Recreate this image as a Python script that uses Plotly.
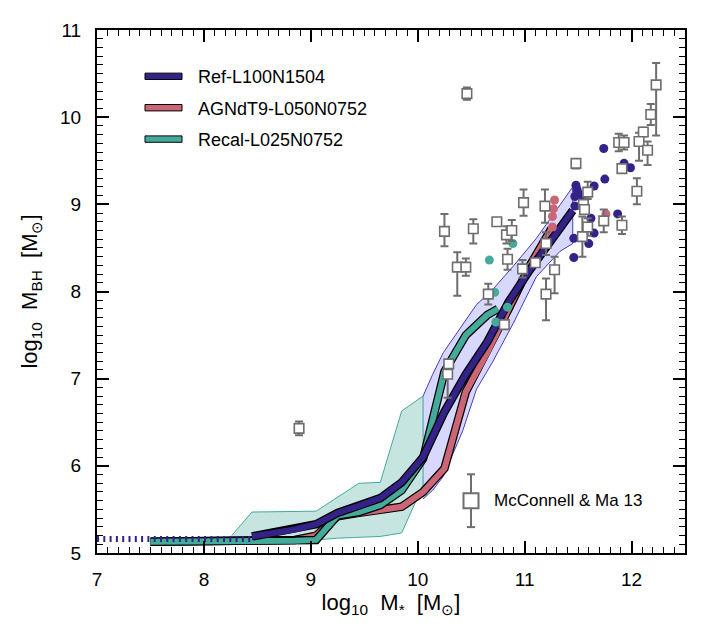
import plotly.graph_objects as go

# ---- simulation medians (log10 M*, log10 M_BH) ----
ref_x = [8.45, 8.85, 9.05, 9.25, 9.45, 9.65, 9.85, 10.05, 10.25, 10.45, 10.65, 10.85, 11.05, 11.25, 11.45]
ref_y = [5.19, 5.27, 5.33, 5.46, 5.54, 5.63, 5.81, 6.10, 6.62, 7.05, 7.42, 7.88, 8.25, 8.60, 8.93]
ref_low_x = [7.0, 8.45]
ref_low_y = [5.16, 5.16]

agn_x = [7.5, 8.05, 8.45, 8.85, 9.05, 9.25, 9.45, 9.65, 9.85, 10.05, 10.25, 10.45, 10.65, 10.85, 11.05, 11.25]
agn_y = [5.13, 5.13, 5.13, 5.15, 5.20, 5.42, 5.46, 5.49, 5.53, 5.70, 5.97, 6.85, 7.30, 7.80, 8.30, 8.72]

rec_x = [7.5, 8.05, 8.45, 8.85, 9.05, 9.25, 9.45, 9.65, 9.85, 10.05, 10.25, 10.45, 10.65, 10.75]
rec_y = [5.13, 5.13, 5.13, 5.14, 5.15, 5.43, 5.47, 5.55, 5.72, 6.08, 7.08, 7.50, 7.73, 7.80]

# ---- scatter bands ----
rec_band_x = [8.26, 8.45, 9.05, 9.25, 9.45, 9.65, 9.85, 10.05]
rec_band_hi = [5.20, 5.47, 5.48, 5.64, 5.80, 5.81, 6.63, 6.80]
rec_band_lo = [5.10, 5.10, 5.15, 5.17, 5.18, 5.19, 5.23, 5.78]

ref_band_x = [10.05, 10.14, 10.24, 10.42, 10.55, 10.70, 10.90, 11.11, 11.33, 11.45]
ref_band_hi = [6.80, 7.05, 7.30, 7.62, 7.85, 8.02, 8.30, 8.61, 9.00, 9.20]
ref_band_lo = [5.62, 5.72, 5.88, 6.40, 6.88, 7.19, 7.65, 8.17, 8.46, 8.55]

# ---- individual massive galaxies ----
ref_gal_x = [11.74, 11.75, 11.65, 11.48, 11.49, 11.53, 11.47, 11.47, 11.62, 11.87, 11.93, 11.99, 11.65, 11.46, 11.60, 11.46, 11.50]
ref_gal_y = [9.64, 9.29, 9.21, 9.22, 9.17, 9.08, 9.09, 8.98, 8.84, 8.89, 9.47, 9.42, 8.67, 8.61, 8.55, 8.39, 9.13]
agn_gal_x = [11.28, 11.27, 11.26, 11.26, 11.76]
agn_gal_y = [9.05, 8.95, 8.86, 8.74, 8.89]
rec_gal_x = [10.89, 10.67, 10.72, 10.84, 10.73]
rec_gal_y = [8.55, 8.36, 7.99, 7.82, 7.65]

# ---- McConnell & Ma 2013 ----
mm_x = [8.89, 10.46, 10.25, 10.52, 10.74, 10.99, 11.19, 10.83, 10.88, 11.20, 10.37, 10.45, 10.84,
        10.98, 11.10, 11.28, 11.20, 10.66, 10.81, 10.29, 10.28, 12.23, 12.18, 12.11, 12.07, 12.15,
        11.88, 11.93, 11.91, 11.48, 12.05, 11.59, 11.55, 11.56, 11.74, 11.91, 11.59, 11.54]
mm_y = [6.43, 10.27, 8.69, 8.72, 8.80, 9.02, 8.98, 8.65, 8.70, 8.55, 8.28, 8.28, 8.37,
        8.26, 8.33, 8.25, 7.97, 7.97, 7.62, 7.17, 7.05, 10.37, 10.03, 9.83, 9.72, 9.62,
        9.71, 9.71, 9.41, 9.47, 9.15, 9.14, 9.00, 8.94, 8.81, 8.76, 8.74, 8.63]
mm_err_hi = [0.08, 0.07, 0.20, 0.11, 0.0, 0.15, 0.19, 0.10, 0.12, 0.13, 0.17, 0.10, 0.12,
             0.10, 0.0, 0.15, 0.18, 0.12, 0.0, 0.04, 0.05, 0.25, 0.12, 0.05, 0.10, 0.10,
             0.10, 0.08, 0.0, 0.0, 0.15, 0.12, 0.0, 0.0, 0.13, 0.10, 0.10, 0.23]
mm_err_lo = [0.08, 0.07, 0.17, 0.17, 0.0, 0.15, 0.19, 0.10, 0.12, 0.13, 0.33, 0.10, 0.12,
             0.10, 0.0, 0.27, 0.30, 0.12, 0.0, 0.0, 0.27, 0.58, 0.12, 0.05, 0.22, 0.17,
             0.10, 0.08, 0.0, 0.06, 0.15, 0.08, 0.0, 0.0, 0.13, 0.10, 0.10, 0.23]

names = ['Ref-L100N1504', 'AGNdT9-L050N0752', 'Recal-L025N0752']
colors = ['#332288', '#CC6677', '#44AA99']
FONT = 'Liberation Sans'
GREY = 'rgb(110,110,110)'

# page body has an 8px margin, so the frame sits at 97..685 x 28..553 on screen
ML, MT, PW, PH = 89, 20, 588, 525

fig = go.Figure()

# bands
fig.add_trace(go.Scatter(x=rec_band_x + rec_band_x[::-1], y=rec_band_hi + rec_band_lo[::-1],
                         fill='toself', fillcolor='rgba(68,170,153,0.3)', mode='lines',
                         line=dict(color='#44AA99', width=1), hoverinfo='skip'))
fig.add_trace(go.Scatter(x=ref_band_x + ref_band_x[::-1], y=ref_band_hi + ref_band_lo[::-1],
                         fill='toself', fillcolor='rgba(60,60,255,0.2)', mode='lines',
                         line=dict(color='rgb(70,60,190)', width=1), hoverinfo='skip'))

# medians with black outline
for xs, ys, c in [(agn_x, agn_y, colors[1]), (rec_x, rec_y, colors[2]), (ref_x, ref_y, colors[0])]:
    fig.add_trace(go.Scatter(x=xs, y=ys, mode='lines', line=dict(color='black', width=8.5)))
    fig.add_trace(go.Scatter(x=xs, y=ys, mode='lines', line=dict(color=c, width=6)))
fig.add_trace(go.Scatter(x=ref_low_x, y=ref_low_y, mode='lines',
                         line=dict(color=colors[0], width=6, dash='2px,4.3px')))

# galaxies
for xs, ys, c in [(ref_gal_x, ref_gal_y, colors[0]), (agn_gal_x, agn_gal_y, colors[1]),
                  (rec_gal_x, rec_gal_y, colors[2])]:
    fig.add_trace(go.Scatter(x=xs, y=ys, mode='markers',
                             marker=dict(color=c, size=9, line=dict(width=0))))

fig.add_trace(go.Scatter(
    x=mm_x, y=mm_y, mode='markers',
    marker=dict(symbol='square', size=9.5, color='white', line=dict(color=GREY, width=1.6)),
    error_y=dict(type='data', symmetric=False, array=mm_err_hi, arrayminus=mm_err_lo,
                 color=GREY, thickness=2, width=4)))


# ---- hand made legends (screen pixel -> paper helpers) ----
def px(v):
    return (v - 8 - ML) / PW


def py(v):
    return (MT + PH + 8 - v) / PH


shapes = []
annotations = []
for i, (n, c) in enumerate(zip(names, colors)):
    yc = [74.5, 106, 137.5][i]
    shapes.append(dict(type='rect', xref='paper', yref='paper', x0=px(145), x1=px(182),
                       y0=py(yc + 3.2), y1=py(yc - 3.2), fillcolor=c,
                       line=dict(color='black', width=1)))
    annotations.append(dict(xref='paper', yref='paper', x=px(196), y=py(yc + 1), text=n,
                            showarrow=False, xanchor='left', yanchor='middle',
                            font=dict(family=FONT, size=18, color='black')))

shapes.append(dict(type='line', xref='paper', yref='paper', x0=px(471), x1=px(471),
                   y0=py(474), y1=py(527), line=dict(color=GREY, width=2)))
for yy in [474, 527]:
    shapes.append(dict(type='line', xref='paper', yref='paper', x0=px(467), x1=px(475),
                       y0=py(yy), y1=py(yy), line=dict(color=GREY, width=2)))
shapes.append(dict(type='rect', xref='paper', yref='paper', x0=px(463.5), x1=px(478.5),
                   y0=py(508), y1=py(493), fillcolor='white', line=dict(color=GREY, width=2)))
annotations.append(dict(xref='paper', yref='paper', x=px(492), y=py(500),
                        text='McConnell & Ma 13', showarrow=False, xanchor='left',
                        yanchor='middle', font=dict(family=FONT, size=17, color='black')))

axis_common = dict(
    showgrid=False, zeroline=False, showline=True, linecolor='black', linewidth=2,
    mirror='allticks', ticks='inside', ticklen=12, tickwidth=1.5, tickcolor='black',
    minor=dict(ticks='inside', ticklen=6, tickwidth=1, tickcolor='black', dtick=0.1),
    tickfont=dict(family=FONT, size=19, color='black'),
    dtick=1,
)

fig.update_layout(
    width=720, height=621,
    margin=dict(l=ML, r=720 - ML - PW, t=MT, b=621 - MT - PH),
    plot_bgcolor='white', paper_bgcolor='white',
    showlegend=False,
    shapes=shapes, annotations=annotations,
    xaxis=dict(range=[7, 12.5], ticklabelstandoff=8,
               title=dict(text='log<sub>10</sub>  M<sub>*</sub>  [M<sub>⊙</sub>]', standoff=6,
                          font=dict(family=FONT, size=22, color='black')),
               **axis_common),
    yaxis=dict(range=[5, 11], ticklabelstandoff=10,
               title=dict(text='log<sub>10</sub>  M<sub>BH</sub>  [M<sub>⊙</sub>]', standoff=16,
                          font=dict(family=FONT, size=22, color='black')),
               **axis_common),
)

fig.write_html('out.html')
